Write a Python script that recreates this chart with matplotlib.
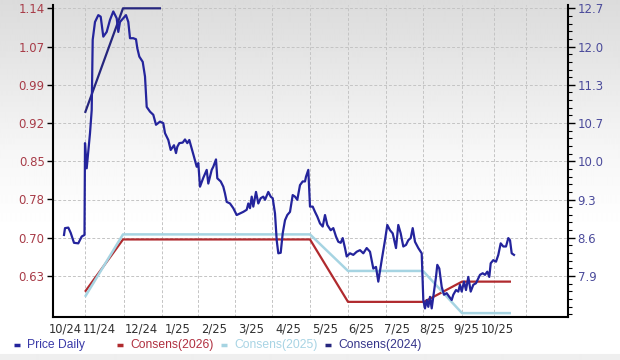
import matplotlib
matplotlib.use("Agg")
import matplotlib.pyplot as plt
import numpy as np
from matplotlib.lines import Line2D
from matplotlib.ticker import FixedLocator

# ---------------- data ----------------
# x positions are in chart-position units along the time axis
month_grid = [85, 124, 162, 198, 235, 272, 310, 348, 386, 423, 462, 494, 526]
month_label_pos = [65, 99, 141, 178, 214, 251, 288, 325, 361, 397, 432, 466, 497]
month_labels = ["10/24", "11/24", "12/24", "1/25", "2/25", "3/25", "4/25",
                "5/25", "6/25", "7/25", "8/25", "9/25", "10/25"]

left_ticks = [1.14, 1.067, 0.994, 0.921, 0.848, 0.776, 0.703, 0.63]
left_labels = ["1.14", "1.07", "0.99", "0.92", "0.85", "0.78", "0.70", "0.63"]
right_ticks = [12.70, 12.02, 11.34, 10.66, 9.98, 9.30, 8.62, 7.94]
right_labels = ["12.7", "12.0", "11.3", "10.7", "10.0", "9.3", "8.6", "7.9"]

price_x = [
    64, 65, 68.3, 70.7, 74, 78.3, 81.7, 84.5, 85, 86.7,
    90, 91.7, 92.7, 95, 98.3, 100.7, 103.3, 106.7, 110, 113.3,
    116.7, 118.3, 120, 123.3, 126, 128.3, 130, 133.3, 136, 137.3,
    139.3, 142.7, 145, 146.7, 150, 153.3, 156, 160, 163.3, 165,
    168.3, 170.7, 174, 176, 177.3, 179.3, 182.7, 185, 187.3, 189.3,
    191.7, 194, 196.7, 198.3, 200, 203.3, 206.7, 208.3, 211.7, 213.3,
    216, 217.3, 220.7, 223.3, 225, 226.7, 230, 233.3, 236.7, 240,
    243.3, 246.7, 248.3, 250, 251.7, 253.3, 256, 258.3, 260.7, 263.3,
    265, 268.3, 270.7, 272.7, 275, 276.7, 278.3, 280.7, 282.7, 285,
    287.3, 290, 292.7, 295, 297.3, 300, 302.7, 305, 306, 308.3,
    310, 312.7, 315, 317.3, 320, 322.7, 325, 327.3, 330.7, 333.3,
    336, 338.3, 340.7, 342.7, 345, 346.7, 350, 353.3, 356.7, 360,
    363.3, 366.7, 370, 373.3, 376, 378.3, 381.7, 385, 387.3, 390,
    392.7, 396, 398.3, 400.7, 403.3, 406, 408.3, 410.7, 412.7, 415,
    418.3, 421.7, 423.3, 425, 426.7, 428.3, 430, 431.7, 433.3, 436,
    437.3, 439.3, 441.7, 444, 446.7, 449.3, 451.7, 453.3, 456, 458.3,
    460, 461.7, 464, 466, 468.3, 470.7, 473.3, 476, 478.3, 480,
    482.7, 485, 487.3, 489.3, 490.7, 493.3, 496, 498.3, 500.7, 503.3,
    506, 508.3, 510, 511.7, 514,
]
price_daily = [
    0.708, 0.721, 0.722, 0.712, 0.693, 0.692, 0.705, 0.708, 0.883, 0.835,
    0.902, 0.946, 1.080, 1.114, 1.127, 1.124, 1.086, 1.095, 1.118, 1.134,
    1.121, 1.095, 1.114, 1.121, 1.127, 1.114, 1.083, 1.083, 1.081, 1.064,
    1.048, 1.038, 1.010, 0.952, 0.943, 0.937, 0.918, 0.924, 0.921, 0.902,
    0.889, 0.870, 0.879, 0.864, 0.876, 0.883, 0.884, 0.890, 0.883, 0.889,
    0.873, 0.857, 0.838, 0.845, 0.800, 0.817, 0.832, 0.806, 0.832, 0.838,
    0.852, 0.816, 0.810, 0.800, 0.787, 0.771, 0.768, 0.759, 0.746, 0.749,
    0.752, 0.756, 0.768, 0.759, 0.781, 0.762, 0.790, 0.768, 0.778, 0.781,
    0.775, 0.790, 0.781, 0.778, 0.749, 0.698, 0.673, 0.674, 0.711, 0.736,
    0.746, 0.752, 0.784, 0.781, 0.775, 0.803, 0.810, 0.810, 0.819, 0.832,
    0.762, 0.762, 0.752, 0.743, 0.730, 0.724, 0.746, 0.727, 0.717, 0.721,
    0.705, 0.695, 0.693, 0.702, 0.683, 0.667, 0.673, 0.670, 0.676, 0.679,
    0.673, 0.683, 0.676, 0.644, 0.647, 0.619, 0.660, 0.698, 0.727, 0.717,
    0.711, 0.683, 0.727, 0.711, 0.686, 0.689, 0.698, 0.702, 0.721, 0.695,
    0.683, 0.673, 0.584, 0.568, 0.584, 0.571, 0.590, 0.568, 0.590, 0.628,
    0.651, 0.644, 0.609, 0.594, 0.597, 0.590, 0.584, 0.594, 0.603, 0.600,
    0.613, 0.600, 0.619, 0.603, 0.628, 0.600, 0.613, 0.616, 0.625, 0.632,
    0.635, 0.632, 0.638, 0.628, 0.654, 0.660, 0.657, 0.670, 0.692, 0.686,
    0.686, 0.702, 0.698, 0.673, 0.670,
]

cons2026_x = [85, 123, 310, 348, 424, 462, 511]
cons2026 = [7.66, 8.59, 8.59, 7.48, 7.48, 7.84, 7.84]
cons2025_x = [85, 123, 310, 348, 423, 462, 511]
cons2025 = [7.57, 8.68, 8.68, 8.03, 8.03, 7.28, 7.28]
cons2024_x = [85, 123, 161]
cons2024 = [10.84, 12.70, 12.70]

# ---------------- styling ----------------
C_PRICE = "#24249c"
C_2026 = "#b02a2e"
C_2025 = "#a6d4e2"
C_2024 = "#26267e"
GRID = "#c4c4c4"

W, H = 620, 360
fig = plt.figure(figsize=(W / 100, H / 100), dpi=100)

# background gradient (gray at top fading to white, gray band at bottom)
bg = fig.add_axes([0, 0, 1, 1], zorder=-10)
rows = np.arange(H)
shade = np.interp(rows, [0, 60, 150, 230, 353, 354, 360],
                  [0.86, 0.90, 0.965, 1.0, 1.0, 0.935, 0.935])
img = np.repeat(shade[:, None], 4, axis=1)
bg.imshow(img, cmap="gray", vmin=0, vmax=1, aspect="auto",
          extent=[0, 1, 0, 1], origin="upper", interpolation="bilinear")
bg.set_axis_off()

L, R, B, T = 53, 568, 317, 5
rect = [L / W, 1 - B / H, (R - L) / W, (B - T) / H]
ax2 = fig.add_axes(rect, zorder=1)             # right axis: consensus + grid
ax = fig.add_axes(rect, zorder=2, sharex=ax2)  # left axis: price
ax.patch.set_visible(False)
ax2.patch.set_visible(False)

ax2.yaxis.tick_right()
ax2.yaxis.set_label_position("right")

# consensus lines (right scale)
ax2.plot(cons2026_x, cons2026, color=C_2026, lw=1.6, solid_capstyle="butt", zorder=3)
ax2.plot(cons2025_x, cons2025, color=C_2025, lw=1.8, solid_capstyle="butt", zorder=3)
ax2.plot(cons2024_x, cons2024, color=C_2024, lw=1.6, solid_capstyle="butt", zorder=3)

# price (left scale)
ax.plot(price_x, price_daily, color=C_PRICE, lw=1.6, solid_joinstyle="round", zorder=3)

# limits
ax.set_xlim(L, R)
ax.set_ylim(0.5516, 1.1463)
ax2.set_ylim(7.211, 12.759)

# x ticks: grid at month boundaries, labels mid-month
ax2.set_xticks(month_grid)
ax2.set_xticks(month_label_pos, minor=True)
ax2.set_xticklabels([""] * len(month_grid))
ax2.set_xticklabels(month_labels, minor=True)
ax2.tick_params(axis="x", which="both", length=0, pad=4, labelsize=8.3,
                labelcolor="#303030")
ax.tick_params(axis="x", which="both", length=0, labelbottom=False)

# left y ticks
ax.set_yticks(left_ticks)
ax.set_yticklabels(left_labels)
ax.tick_params(axis="y", which="major", direction="out", length=4, width=1,
               color="black", labelcolor="#a83c48", labelsize=8.5, pad=2)

# right y ticks
ax2.set_yticks(right_ticks)
ax2.set_yticklabels(right_labels)
ax2.yaxis.set_minor_locator(FixedLocator(np.arange(7.26, 12.8, 0.136)))
ax2.tick_params(axis="y", which="major", direction="out", length=5, width=1,
                color="black", labelcolor="#4b4b9b", labelsize=8.5, pad=2)
ax2.tick_params(axis="y", which="minor", direction="out", length=3, width=0.8,
                color="black")

# grid (on the lower axes so it sits beneath all lines)
ax2.set_axisbelow(True)
ax2.grid(True, which="major", axis="both", color=GRID, lw=0.7,
         linestyle=(0, (3, 2)))

# spines
for s in ["top", "right"]:
    ax.spines[s].set_visible(False)
for s in ["left", "bottom"]:
    ax.spines[s].set_linewidth(1.5)
    ax.spines[s].set_color("black")
for s in ["top", "left", "bottom"]:
    ax2.spines[s].set_visible(False)
ax2.spines["right"].set_linewidth(1.5)
ax2.spines["right"].set_color("black")

# legend (manual, along the bottom)
legend_items = [
    ("Price Daily", C_PRICE, "#3a3aa8", 17),
    ("Consens(2026)", C_2026, "#b03040", 120),
    ("Consens(2025)", C_2025, "#a8d4e4", 224),
    ("Consens(2024)", C_2024, "#35358a", 328),
]
ly = 1 - 345 / H
for label, lc, tc, mx in legend_items:
    fig.add_artist(Line2D([(mx - 3) / W, (mx + 3) / W], [ly, ly],
                          transform=fig.transFigure, color=lc, lw=2.5,
                          solid_capstyle="butt"))
    fig.text((mx + 10) / W, ly, label, color=tc, fontsize=8.75,
             family=["Liberation Sans", "DejaVu Sans"], va="center", ha="left")

fig.savefig("out.png", dpi=100)
